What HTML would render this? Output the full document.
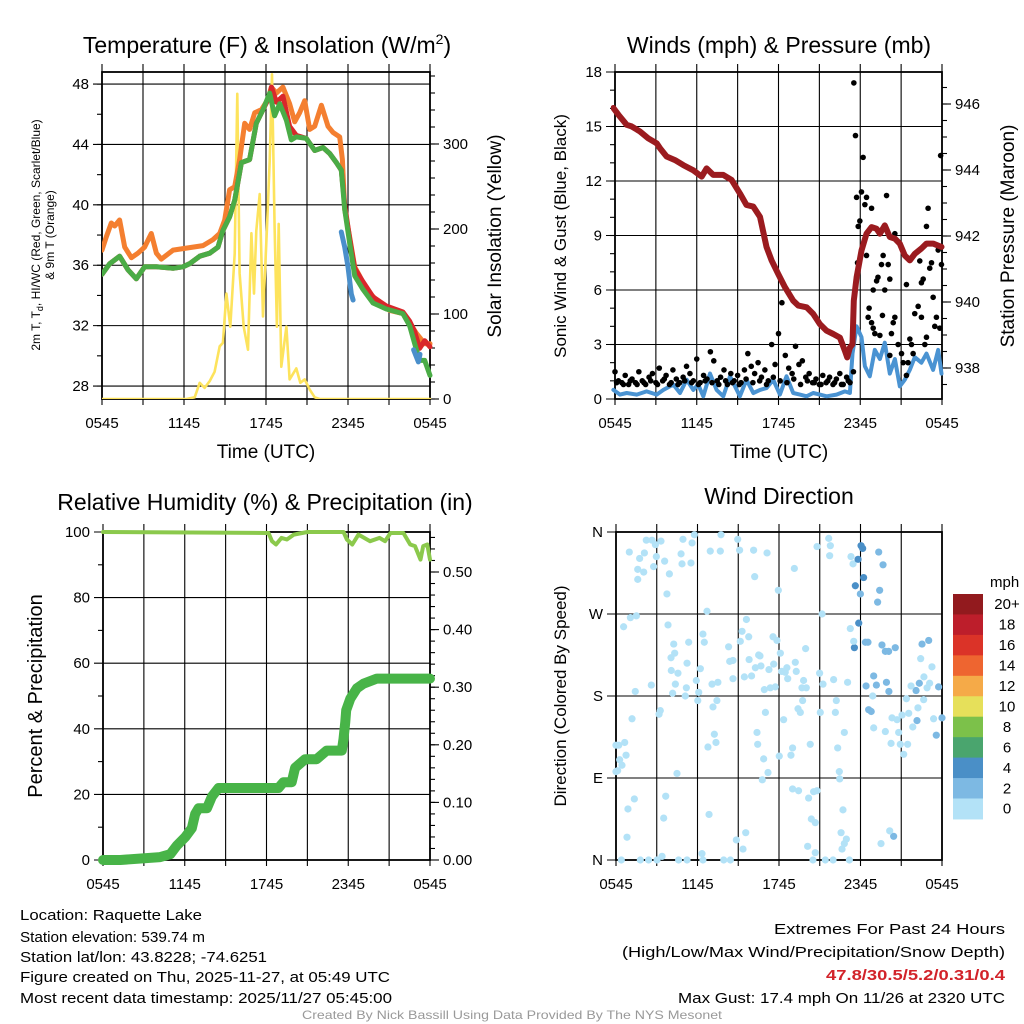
<!DOCTYPE html>
<html><head><meta charset="utf-8"><style>
html,body{margin:0;padding:0;background:#fff;}
svg{display:block;font-family:"Liberation Sans",sans-serif;}
</style></head><body>
<svg id="chart" width="1024" height="1024" viewBox="0 0 1024 1024" xmlns="http://www.w3.org/2000/svg">
<rect width="1024" height="1024" fill="#fff"/>
<g id="p1"></g>
<g id="p2"></g>
<g id="p3"></g>
<g id="p4"></g>
<g font-size="23" text-anchor="middle" fill="#000">
<text x="267" y="53">Temperature (F) &amp; Insolation (W/m<tspan font-size="14" dy="-9">2</tspan><tspan dy="9">)</tspan></text>
<text x="779" y="53">Winds (mph) &amp; Pressure (mb)</text>
<text x="265" y="510">Relative Humidity (%) &amp; Precipitation (in)</text>
<text x="779" y="504">Wind Direction</text>
</g>
<g font-size="19" text-anchor="middle">
<text x="266" y="458">Time (UTC)</text>
<text x="779" y="458">Time (UTC)</text>
<text transform="translate(501,236) rotate(-90)">Solar Insolation (Yellow)</text>
<text font-size="17" transform="translate(566,236) rotate(-90)">Sonic Wind &amp; Gust (Blue, Black)</text>
<text transform="translate(1014,236) rotate(-90)">Station Pressure (Maroon)</text>
<text font-size="20" transform="translate(42,696) rotate(-90)">Percent &amp; Precipitation</text>
<text font-size="17" transform="translate(566,696) rotate(-90)">Direction (Colored By Speed)</text>
<text font-size="12" transform="translate(40,235) rotate(-90)">2m T, T<tspan font-size="9" dy="3">d</tspan><tspan dy="-3">, HI/WC (Red, Green, Scarlet/Blue)</tspan></text>
<text font-size="12" transform="translate(54,235) rotate(-90)">&amp; 9m T (Orange)</text>
</g>
<g font-size="15">
<text x="20" y="920" textLength="182" lengthAdjust="spacingAndGlyphs">Location: Raquette Lake</text>
<text x="20" y="942" textLength="185" lengthAdjust="spacingAndGlyphs">Station elevation: 539.74 m</text>
<text x="20" y="962" textLength="247" lengthAdjust="spacingAndGlyphs">Station lat/lon: 43.8228; -74.6251</text>
<text x="20" y="982" textLength="370" lengthAdjust="spacingAndGlyphs">Figure created on Thu, 2025-11-27, at 05:49 UTC</text>
<text x="20" y="1003" textLength="372" lengthAdjust="spacingAndGlyphs">Most recent data timestamp: 2025/11/27 05:45:00</text>
</g>
<g font-size="15">
<text x="774" y="934" textLength="231" lengthAdjust="spacingAndGlyphs">Extremes For Past 24 Hours</text>
<text x="622" y="957" textLength="383" lengthAdjust="spacingAndGlyphs">(High/Low/Max Wind/Precipitation/Snow Depth)</text>
<text x="826" y="980" font-weight="bold" fill="#d2232a" textLength="179" lengthAdjust="spacingAndGlyphs">47.8/30.5/5.2/0.31/0.4</text>
<text x="678" y="1003" textLength="327" lengthAdjust="spacingAndGlyphs">Max Gust: 17.4 mph On 11/26 at 2320 UTC</text>
</g>
<text x="302" y="1019" font-size="12" fill="#999" textLength="420" lengthAdjust="spacingAndGlyphs">Created By Nick Bassill Using Data Provided By The NYS Mesonet</text>
</svg>
<script>
// ---- time axis ----
const xTickLabels = ["0545","1145","1745","2345","0545"];
// ---- temperature panel ----
const tempTicks = [28,32,36,40,44,48];
const solarTicks = [0,100,200,300];
const orangeT = [0,0.32,0.68,0.93,1.29,1.66,2.15,2.63,3.12,3.61,3.98,4.34,5.2,5.93,6.66,7.39,8.12,8.61,8.98,9.34,9.71,10.07,10.44,10.8,11.17,11.66,12.15,12.39,12.76,13.24,13.73,14.1,14.46,14.83,15.2,15.56,16.05,16.54,16.9,17.39,17.59,17.76,18.12,18.49,18.85,19.34,20.07,21.05,22.02,22.51,23,23.61,24];
const orangeV = [37.0,37.9,38.8,38.6,39.0,37.2,36.5,36.8,37.2,38.1,36.8,36.4,37.0,37.1,37.2,37.3,37.7,38.1,39.0,41.0,41.2,43.0,45.4,45.0,46.1,46.3,47.0,47.8,47.4,47.8,46.7,45.5,46.1,46.9,45.0,45.2,46.6,45.2,44.8,44.5,43.0,39.7,37.9,35.9,35.3,34.4,33.7,33.0,32.8,32.2,31.5,30.8,30.8];
const greenT = [0,0.56,1.29,1.9,2.51,3.12,3.98,5.2,5.93,6.41,7.15,7.88,8.49,8.85,9.34,9.71,10.2,10.8,11.29,11.78,12.27,12.63,13,13.49,13.85,14.22,14.95,15.56,16.17,16.66,17.15,17.51,17.76,18.12,18.49,19.1,19.83,20.8,22.02,22.51,22.88,23.24,23.61,24];
const greenV = [35.4,36.1,36.6,35.7,35.1,35.9,35.9,35.8,35.9,36.1,36.6,36.8,37.2,38.3,39.2,40.3,42.8,43.0,45.4,46.3,47.4,45.9,46.7,45.6,44.3,44.5,44.4,43.6,43.8,43.4,42.8,42.3,39.7,37.5,35.3,34.4,33.5,33.1,32.8,32.0,30.8,29.7,29.7,28.7];
const redT = [0,0.56,1.29,1.9,2.51,3.12,3.98,5.2,5.93,6.41,7.15,7.88,8.49,8.85,9.34,9.71,10.2,10.8,11.29,11.78,12.27,12.4,12.76,13.24,13.73,14.22,14.95,15.56,16.17,16.66,17.15,17.51,17.76,18.12,18.49,19.1,19.83,20.8,22.02,22.51,22.88,23.24,23.61,24];
const redV = [35.4,36.1,36.6,35.7,35.1,35.9,35.9,35.8,35.9,36.1,36.6,36.8,37.2,38.3,39.2,40.3,42.8,43.0,45.4,46.3,47.2,47.8,46.8,47.2,45.2,44.6,44.4,43.6,43.8,43.4,42.8,42.3,40.0,37.8,35.8,34.9,33.9,33.3,32.9,32.3,31.6,30.5,31.0,30.6];
const hiwcAT = [17.51,17.76,18.0,18.24,18.37];
const hiwcAV = [38.2,37.2,35.9,34.1,33.7];
const hiwcBT = [22.8,23.15,23.27];
const hiwcBV = [30.4,29.6,30.1];
const solarT = [0,6.17,6.78,7.15,7.51,7.88,8.24,8.61,8.85,9.1,9.39,9.71,9.9,10.07,10.37,10.68,10.93,11.12,11.29,11.54,11.78,12.07,12.27,12.44,12.63,12.8,12.93,13.12,13.49,13.73,14.22,14.51,14.83,15.2,15.56,15.93,24];
const solarV = [0,0,2,19,13,21,32,62,66,124,85,171,359,148,85,58,195,124,198,241,97,202,280,382,202,85,206,38,85,23,36,19,23,11,2,0,0];
// ---- winds panel ----
const windTicks = [0,3,6,9,12,15,18];
const presTicks = [938,940,942,944,946];
const presT = [-0.12,0.24,0.86,1.22,1.83,2.44,3.06,3.3,3.79,4.4,5.01,5.75,6.36,6.72,7.21,7.95,8.56,9.17,9.65,10.15,10.64,11.12,11.49,11.98,12.47,13.08,13.45,14.06,14.55,15.04,15.53,16.02,16.51,16.87,17.04,17.24,17.43,17.53,17.73,18.09,18.46,18.83,19.19,19.44,19.8,20.17,20.54,20.9,21.27,21.64,22.0,22.49,22.86,23.35,23.96];
const presV = [945.88,945.68,945.37,945.32,945.17,944.96,944.81,944.66,944.41,944.30,944.15,943.99,943.80,944.05,943.85,943.85,943.70,943.29,942.94,942.89,942.58,941.67,941.26,940.85,940.45,940.04,939.89,939.84,939.64,939.33,939.13,939.03,938.92,938.52,938.32,938.62,938.72,940.04,940.75,941.56,942.07,942.27,942.22,942.07,942.32,941.97,941.92,941.77,941.41,941.26,941.46,941.62,941.77,941.77,941.67];
const windT = [-0.12,0.37,0.86,1.59,2.32,3.06,3.55,4.28,4.77,5.26,5.75,6.11,6.48,6.97,7.46,7.95,8.44,9.17,9.65,10.15,10.64,11.12,11.61,12.1,12.59,13.08,13.57,14.06,14.55,15.04,15.53,16.26,16.87,17.24,17.43,17.73,18.09,18.34,18.7,19.07,19.44,19.8,20.17,20.54,20.9,21.27,21.64,22.0,22.49,22.86,23.35,23.72,23.96];
const windV = [0.5,0.24,0.33,0.24,0.42,0.24,0.5,0.8,0.33,1.06,0.5,0.8,0.15,1.4,0.5,0.15,1.25,0.15,1.06,0.33,0.5,0.6,1.06,0.24,1.25,0.33,0.24,0.15,0.33,0.24,0.15,0.24,0.42,0.33,2.5,4.0,3.4,1.8,1.25,2.7,2.2,3.1,1.4,2.2,0.7,1.06,1.6,2.3,2.0,2.5,1.6,2.7,1.4];
const gustT = [0,0.25,0.5,0.75,1,1.25,1.5,1.75,2,2.25,2.5,2.75,3,3.25,3.5,3.75,4,4.25,4.5,4.75,5,5.25,5.5,5.75,6,6.25,6.5,6.75,7,7.25,7.5,7.75,8,8.25,8.5,8.75,9,9.25,9.5,9.75,10,10.25,10.5,10.75,11,11.25,11.5,11.75,12,12.25,12.5,12.75,13,13.25,13.5,13.75,14,14.25,14.5,14.75,15,15.25,15.5,15.75,16,16.25,16.5,16.75,17,17.25,17.5,
0.12,0.62,1.12,1.62,2.12,2.62,3.12,3.62,4.12,4.62,5.12,5.62,6.12,6.62,7.12,7.62,8.12,8.62,9.12,9.62,10.12,10.62,11.12,11.62,12.12,12.62,13.12,13.62,14.12,14.62,15.12,15.62,16.12,16.62,17.12,
17.53,17.65,17.73,17.85,17.97,18.09,18.21,18.34,18.46,18.83,17.8,18.46,18.65,18.58,18.83,18.95,19.07,19.44,18.95,19.2,19.3,19.56,19.68,19.8,19.93,20.05,20.17,19.63,20.29,20.42,20.54,20.54,20.17,20.78,21.03,21.15,21.39,21.51,21.39,21.64,21.76,21.88,22.0,22.25,22.49,22.37,22.49,22.62,22.74,22.86,22.86,22.98,23.1,23.23,23.35,23.47,23.59,23.72,23.84,23.9,23.96];
const gustV = [1.5,1.0,0.9,1.3,0.8,1.1,0.9,1.5,1.0,0.8,1.2,1.4,0.9,1.7,1.0,1.3,0.8,1.6,1.1,0.9,1.2,1.8,1.4,1.0,2.2,0.9,1.3,1.1,2.6,2.1,1.0,1.2,1.6,0.8,1.4,1.0,1.3,0.9,1.6,2.5,1.8,1.4,2.0,1.2,1.6,1.0,3.0,1.9,3.6,5.3,2.4,1.7,1.4,2.9,1.9,2.1,1.2,1.4,0.9,1.1,0.8,1.3,0.9,1.2,0.8,1.1,1.4,0.8,1.2,0.9,1.5,
0.9,0.8,1.0,0.8,0.9,1.0,0.8,1.1,0.9,0.8,1.0,0.9,0.8,1.0,0.9,0.8,1.0,0.9,0.8,1.1,0.9,1.0,0.8,1.2,1.0,0.9,1.1,0.8,1.0,0.9,0.8,1.0,0.9,0.8,1.0,
17.4,14.5,11.1,9.5,9.8,11.4,13.3,10.7,11.1,10.5,7.5,7.9,5.0,4.5,4.2,3.9,3.6,3.5,6.0,6.5,6.7,7.4,7.9,6.0,11.2,7.4,6.6,4.6,3.6,4.2,4.5,9.1,2.4,3.0,2.5,2.0,1.3,2.0,6.3,3.3,3.0,2.5,4.7,5.1,4.5,7.6,6.4,6.6,3.0,3.4,9.5,10.5,7.2,7.5,5.6,4.0,4.5,8.2,3.9,13.4,7.4];
// ---- humidity / precipitation panel ----
const rhTicks = [0,20,40,60,80,100];
const precTicks = ["0.00","0.10","0.20","0.30","0.40","0.50"];
const rhT = [0,12.15,12.4,12.7,13.1,13.5,14.0,15,17.65,17.9,18.3,18.75,19.6,20.3,20.7,21.1,22.05,22.55,22.9,23.3,23.5,23.8,24];
const rhV = [100,99.7,97.2,96.2,98.2,97.7,99.2,100,100,97.7,96.2,99.2,97.2,98.2,97.2,99.7,99.7,96.2,95.7,91.6,95.7,96.2,91.6];
const precT = [0,1.27,4.2,4.94,5.42,6.04,6.52,6.77,7.02,7.63,7.99,8.48,9.09,12.88,13.24,13.85,14.1,14.83,15.68,16.42,17.53,17.65,17.78,17.85,18.15,18.63,19.12,20.1,24];
const precV = [0,0,0.005,0.01,0.025,0.04,0.055,0.08,0.09,0.09,0.11,0.125,0.125,0.125,0.135,0.135,0.16,0.175,0.175,0.19,0.19,0.21,0.24,0.26,0.28,0.298,0.306,0.315,0.315];
// ---- wind direction panel ----
const dirTickLabels = ["N","E","S","W","N"];
const speedBinLabels = ["0","2","4","6","8","10","12","14","16","18","20+"];
const speedColors = ["#b3e2f7","#7db9e3","#4a8fc7","#4aa56e","#7cc14a","#e6e05a","#f5aa48","#ee6530","#db3328","#bd1e2b","#921a1e"];
const dirT = [0.98,1.74,2.09,2.23,2.65,2.9,2.77,2.97,3.31,3.58,3.93,3.75,1.6,1.6,2.04,0.56,1.06,1.5,4.79,4.93,4.86,5.52,5.6,5.77,6.94,7.68,7.73,8.96,9.1,10.13,10.21,11.12,13.13,11.95,14.8,15.66,15.78,15.73,17.3,17.45,15.17,6.7,
18.04,18.16,17.82,17.62,18.23,17.99,19.34,19.66,19.41,19.26,17.87,17.55,18.36,18.55,19.58,19.83,20.07,20.56,22.53,23.02,23.26,18.97,19.17,18.41,19.91,20.09,18.6,18.79,22.33,22.09,23.09,22.9,22.65,22.23,22.16,23.58,23.75,24.0,20.44,
4.25,4.32,4.05,3.83,5.35,5.23,4.07,4.56,4.37,4.17,5.18,5.1,5.91,6.21,6.09,6.02,6.4,6.5,7.07,7.5,7.43,7.14,7.24,7.36,6.77,8.29,8.61,8.37,8.61,9.28,9.15,9.6,9.77,9.45,9.98,9.8,10.26,10.6,10.67,10.5,11.26,11.61,11.56,11.85,12.1,11.73,11.36,10.92,11.0,10.38,10.43,10.87,11.19,10.77,12.02,12.34,12.2,12.58,12.46,12.64,13.2,13.27,13.96,13.81,13.69,14.01,13.74,13.4,13.57,13.0,12.88,14.3,14.99,15.24,15.04,16.02,16.22,16.15,17.05,17.25,17.5,16.81,16.32,16.44,16.47,16.71,16.57,16.96,16.81,16.64,17.18,14.55,14.8,14.18,14.38,14.67,14.11,14.67,14.5,15.41,15.98,13.0,13.44,9.55,8.86,9.35,7.93,8.42,6.33,6.4,4.61,5.23,3.39,3.02,1.79,2.4,0.39,0.81,0.88,1.35,3.66,3.51,4.49,6.85,0,0.2,0.64,0.74,0.27,0.44,0,0.12,1.18,1.42,2.6,3.26,3.17,18.97,19.83,20.25,20.81,20.93,21.18,21.47,20.32,20.69,21.06,21.55,21.85,21.38,21.72,22.43,22.67,23.38,19.51,20.15,18.9];
const dirV = [338,331,337,351,351,346,322,333,350,328,314,292,319,308,316,256,266,268,336,352,325,326,348,357,339,339,357,352,340,340,311,337,320,296,344,353,345,334,333,325,270,273,
345,342,330,301,310,292,338,324,296,283,260,233,239,239,236,229,229,233,237,241,212,202,192,191,195,185,165,163,194,186,194,189,176,167,153,137,190,156,26,
237,227,222,258,239,216,208,205,193,183,189,180,197,210,184,175,248,239,193,195,175,168,138,129,124,234,219,218,199,251,240,264,245,201,202,220,211,224,213,225,209,215,245,241,227,190,189,187,162,140,127,111,96,88,114,154,207,211,206,199,217,207,232,197,189,189,175,166,162,123,115,127,205,193,162,198,175,162,195,254,240,140,123,97,89,55,30,23,18,12,0,75,76,68,45,41,15,8,0,0,0,78,76,30,22,12,0,0,7,0,0,0,4,0,0,0,0,25,56,67,70,46,95,50,126,126,129,115,110,104,97,98,155,185,192,164,160,145,141,128,140,127,116,127,156,154,159,161,146,177,191,221,201,155,18,32,180];
const dirS = [1,1,1,1,1,1,1,1,1,1,1,1,1,1,1,1,1,1,1,1,1,1,1,1,1,1,1,1,1,1,1,1,1,1,1,1,1,1,1,1,1,1,
4.5,4.5,5,5,4.5,3,3,3,3,3,4,5,3,3,3,3,3,3,3,3,1,3,3,3,3,3,3,3,3,3,1,1,1,1,3,3,3,3,3,
1,1,1,1,1,1,1,1,1,1,1,1,1,1,1,1,1,1,1,1,1,1,1,1,1,1,1,1,1,1,1,1,1,1,1,1,1,1,1,1,1,1,1,1,1,1,1,1,1,1,1,1,1,1,1,1,1,1,1,1,1,1,1,1,1,1,1,1,1,1,1,1,1,1,1,1,1,1,1,1,1,1,1,1,1,1,1,1,1,1,1,1,1,1,1,1,1,1,1,1,1,1,1,1,1,1,1,1,1,1,1,1,1,1,1,1,1,1,1,1,1,1,1,1,1,1,1,1,1,1,1,1,1,1,1,1,1,1,1,1,1,1,1,1,1,1,1,1,1,1,1,1,1,1,1,1,1,1,1,1];

const NS = "http://www.w3.org/2000/svg";
function mk(parent, tag, attrs) {
  const e = document.createElementNS(NS, tag);
  for (const k in attrs) e.setAttribute(k, attrs[k]);
  parent.appendChild(e);
  return e;
}
function linear(d0, d1, r0, r1) { return v => r0 + (v - d0) * (r1 - r0) / (d1 - d0); }
function pathFrom(ts, vs, sx, sy) {
  let d = "";
  for (let i = 0; i < ts.length; i++) d += (i ? "L" : "M") + sx(ts[i]).toFixed(1) + "," + sy(vs[i]).toFixed(1);
  return d;
}
function frame(g, x0, x1, y0, y1, leftTicks, leftY, leftLabels, leftMinor, rightTicks, rightY, rightLabels, rightMinor, gridY) {
  const sx = linear(0, 24, x0, x1);
  const grid = mk(g, "g", {stroke: "#000", "stroke-width": "1.1", fill: "none"});
  
  
  for (let h = 0; h <= 24; h += 3) {
    const x = sx(h);
    mk(grid, "line", {x1: x, x2: x, y1: y0 - 8, y2: y1 + 6});
  }
  gridY.forEach(v => { const y = leftY(v); mk(grid, "line", {x1: x0 - 9, x2: x1, y1: y, y2: y}); });
  leftMinor.forEach(v => { const y = leftY(v); mk(grid, "line", {x1: x0 - 5, x2: x0, y1: y, y2: y}); });
  if (rightY) {
    rightTicks.forEach(v => { const y = rightY(v); mk(grid, "line", {x1: x1, x2: x1 + 9, y1: y, y2: y}); });
    rightMinor.forEach(v => { const y = rightY(v); mk(grid, "line", {x1: x1, x2: x1 + 5, y1: y, y2: y}); });
  }
  const box = mk(g, "rect", {x: x0, y: y0, width: x1 - x0, height: y1 - y0, fill: "none", stroke: "#000", "stroke-width": "1.8"});
  
  
  const lab = mk(g, "g", {"font-size": "15", fill: "#000"});
  
  
  xTickLabels.forEach((s, i) => {
    const t = mk(lab, "text", {x: sx(i * 6), y: y1 + 29, "text-anchor": "middle"});
    
    
    t.textContent = s;
  });
  leftTicks.forEach((v, i) => {
    const t = mk(lab, "text", {x: x0 - 13, y: leftY(v) + 5, "text-anchor": "end"});
    
    
    t.textContent = leftLabels[i];
  });
  if (rightY) rightTicks.forEach((v, i) => {
    const t = mk(lab, "text", {x: x1 + 13, y: rightY(v) + 5, "text-anchor": "start"});
    
    
    t.textContent = rightLabels[i];
  });
  return sx;
}
function range(a, b, s) { const r = []; for (let v = a; v <= b + 1e-9; v += s) r.push(+v.toFixed(4)); return r; }
function line(g, name, d, color, w) {
  const p = mk(g, "path", {d: d, fill: "none", stroke: color, "stroke-width": w, "stroke-linejoin": "round", "stroke-linecap": "round"});
  
  
  return p;
}

// Panel 1
(function(){
  const g = document.getElementById("p1");
  const x0 = 102, x1 = 430, y0 = 72, y1 = 399;
  const yT = linear(27.14, 48.8, y1, y0);
  const yS = linear(0, 384.7, y1, y0);
  const sx = frame(g, x0, x1, y0, y1, tempTicks, yT, tempTicks.map(String), range(28, 48, 2), solarTicks, yS, solarTicks.map(String), range(0, 380, 20), tempTicks);
  const clip = mk(g, "clipPath", {id: "c1"}); mk(clip, "rect", {x: x0, y: y0 - 6, width: x1 - x0 + 3, height: y1 - y0 + 6});
  const s = mk(g, "g", {"clip-path": "url(#c1)"});
  
  
  line(s, "solar-insolation-line", pathFrom(solarT, solarV, sx, yS), "#fde35c", 2.6);
  line(s, "nine-meter-temp-line", pathFrom(orangeT, orangeV, sx, yT), "#f47f30", 5);
  line(s, "two-meter-temp-line", pathFrom(redT, redV, sx, yT), "#d9272b", 5);
  line(s, "dewpoint-line", pathFrom(greenT, greenV, sx, yT), "#4aac46", 5);
  line(s, "heat-index-windchill-a", pathFrom(hiwcAT, hiwcAV, sx, yT), "#4a8fcb", 5);
  line(s, "heat-index-windchill-b", pathFrom(hiwcBT, hiwcBV, sx, yT), "#4a8fcb", 5);
})();

// Panel 2
(function(){
  const g = document.getElementById("p2");
  const x0 = 615, x1 = 942, y0 = 72, y1 = 399;
  const yW = linear(0, 18, y1, y0);
  const yP = linear(946, 944, 104, 170);
  const sx = frame(g, x0, x1, y0, y1, windTicks, yW, windTicks.map(String), range(1, 17, 1), presTicks, yP, presTicks.map(String), range(937.5, 946.5, 0.5), windTicks);
  const clip = mk(g, "clipPath", {id: "c2"}); mk(clip, "rect", {x: x0 - 4, y: y0, width: x1 - x0 + 8, height: y1 - y0});
  const s = mk(g, "g", {"clip-path": "url(#c2)"});
  
  
  line(s, "sonic-wind-line", pathFrom(windT, windV, sx, yW), "#4a93d2", 4);
  const dots = mk(s, "g", {fill: "#000"});
  
  
  gustT.forEach((t, i) => {
    const c = mk(dots, "circle", {cx: sx(t), cy: yW(gustV[i]), r: 2.8});
    
    
  });
  line(s, "station-pressure-line", pathFrom(presT, presV, sx, yP), "#9b1b1f", 6);
})();

// Panel 3
(function(){
  const g = document.getElementById("p3");
  const x0 = 103, x1 = 430, y0 = 532, y1 = 860;
  const yR = linear(0, 100, y1, y0);
  const yPr = linear(0, 0.5, y1, 572);
  const sx = frame(g, x0, x1, y0, y1, rhTicks, yR, rhTicks.map(String), range(10, 90, 20), precTicks.map(Number), yPr, precTicks, range(0.02, 0.56, 0.02), rhTicks);
  const s = mk(g, "g", {});
  
  
  line(s, "relative-humidity-line", pathFrom(rhT, rhV, sx, yR), "#8bc94c", 4);
  line(s, "precipitation-line", pathFrom(precT, precV, sx, yPr), "#48b448", 10);
})();

// Panel 4
(function(){
  const g = document.getElementById("p4");
  const x0 = 616, x1 = 942, y0 = 532, y1 = 860;
  const yD = linear(0, 360, y1, y0);
  const dirTicks = dirTickLabels.map((_, i) => i * 90);
  const sx = frame(g, x0, x1, y0, y1, dirTicks, yD, dirTickLabels, [], [], null, [], [], dirTicks);
  const s = mk(g, "g", {});
  
  
  dirT.forEach((t, i) => {
    const bin = Math.min(10, Math.floor(dirS[i] / 2));
    const c = mk(s, "circle", {cx: sx(t), cy: yD(dirV[i]), r: 3.6, fill: speedColors[bin]});
    
    
  });
  const leg = mk(g, "g", {"font-size": "15"});
  
  
  const lt = mk(leg, "text", {x: 990, y: 587});
  
  
  lt.textContent = "mph";
  const top = 594, bh = 20.45;
  speedBinLabels.forEach((s2, i) => {
    const k = speedBinLabels.length - 1 - i;
    const y = top + i * bh;
    const r = mk(leg, "rect", {x: 953, y: y, width: 30, height: bh + 0.5, fill: speedColors[k]});
    
    
    const t = mk(leg, "text", {x: 1007, y: y + bh / 2 + 5, "text-anchor": "middle"});
    
    
    t.textContent = speedBinLabels[k];
  });
})();
</script>
</body></html>
